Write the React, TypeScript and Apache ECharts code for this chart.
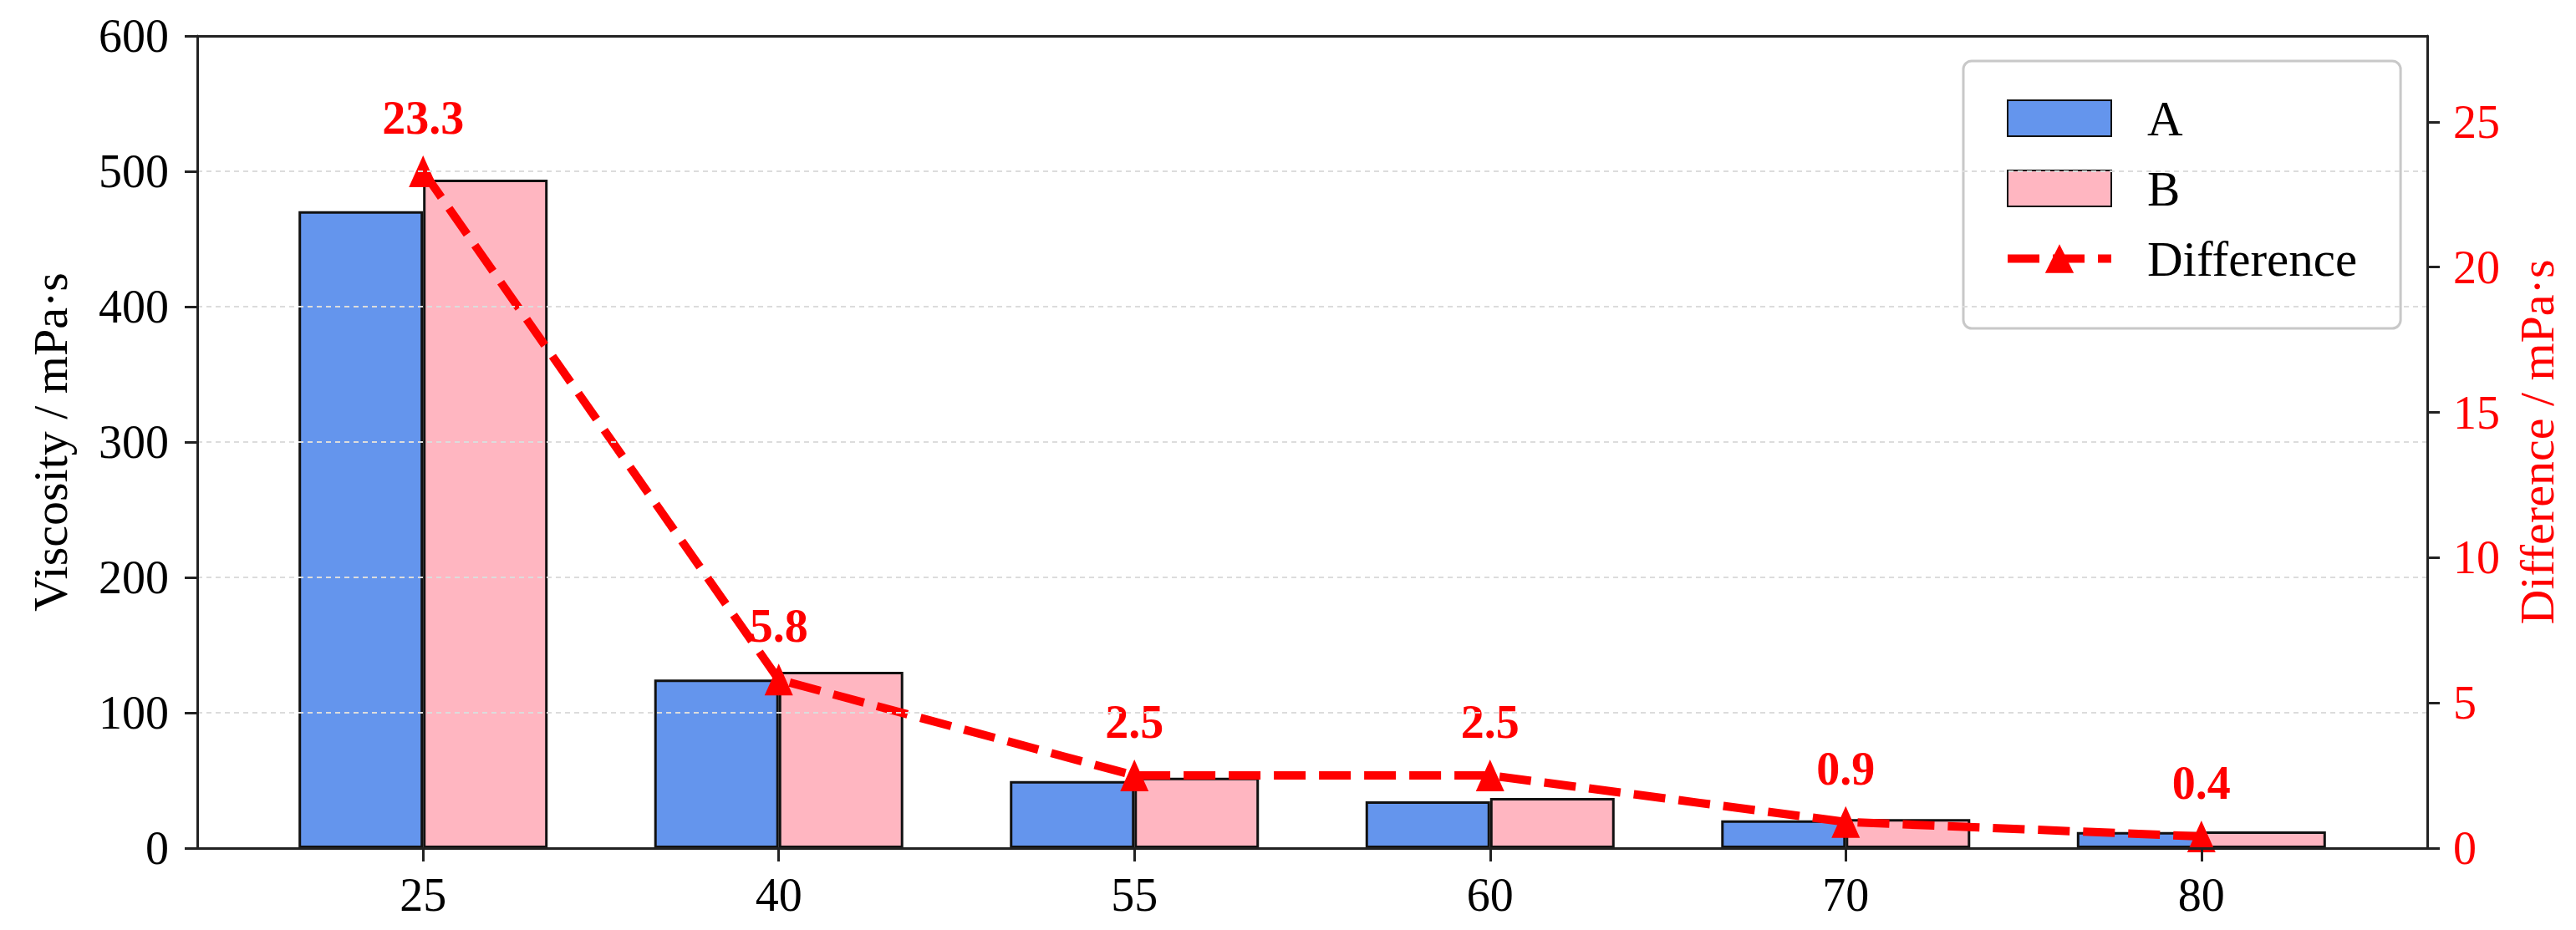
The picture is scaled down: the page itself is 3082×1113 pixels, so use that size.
import React, { useEffect, useRef } from "react";
import * as echarts from "echarts";

const categories = ["25", "40", "55", "60", "70", "80"];
const seriesA = [470.5, 124.5, 49.5, 34.5, 20.5, 11.9];
const seriesB = [493.8, 130.3, 52.0, 37.0, 21.4, 12.3];
const difference = [23.3, 5.8, 2.5, 2.5, 0.9, 0.4];
const leftTicks = [0, 100, 200, 300, 400, 500, 600];
const rightTicks = [0, 5, 10, 15, 20, 25];

const FONT = "'Liberation Serif', 'Times New Roman', serif";
const SPINE = "#222";

export default function App() {
  const ref = useRef<HTMLDivElement>(null);
  useEffect(() => {
    document.body.style.margin = "0";
    if (!ref.current) return;
    const chart = echarts.init(ref.current, undefined, { renderer: "svg" });
    const idx = categories.map((_, i) => i);
    const rightMax = Math.max(...difference) * 1.2;
    chart.setOption({
      animation: false,
      backgroundColor: "#fff",
      textStyle: { fontFamily: FONT },
      grid: { left: 236, right: 178, top: 43, bottom: 98, show: false },
      legend: {
        orient: "vertical",
        left: 2349,
        top: 73,
        padding: [39, 52, 54, 48],
        itemWidth: 124,
        itemHeight: 43,
        itemGap: 25,
        backgroundColor: "#fff",
        borderColor: "#c8c8c8",
        borderWidth: 3,
        borderRadius: 10,
        lineStyle: { width: 10 },
        textStyle: {
          fontFamily: FONT,
          fontSize: 59,
          color: "#000",
          padding: [0, 0, 0, 38],
        },
        data: [
          { name: "A", icon: "rect" },
          { name: "B", icon: "rect" },
          { name: "Difference" },
        ],
      },
      xAxis: [
        {
          type: "value",
          min: -0.635,
          max: 5.635,
          z: 10,
          axisLine: { show: true, onZero: false, lineStyle: { color: SPINE, width: 3 } },
          axisTick: {
            show: true,
            customValues: idx,
            length: 16,
            inside: false,
            lineStyle: { color: SPINE, width: 3 },
          },
          axisLabel: {
            customValues: idx,
            formatter: (v: number) => categories[Math.round(v)] ?? "",
            fontFamily: FONT,
            fontSize: 56,
            color: "#000",
            margin: 28,
          },
          splitLine: { show: false },
        },
        {
          type: "value",
          position: "top",
          min: -0.635,
          max: 5.635,
          z: 10,
          axisLine: { show: true, onZero: false, lineStyle: { color: SPINE, width: 3 } },
          axisTick: { show: false },
          axisLabel: { show: false },
          splitLine: { show: false },
        },
      ],
      yAxis: [
        {
          type: "value",
          min: leftTicks[0],
          max: leftTicks[leftTicks.length - 1],
          interval: 100,
          z: 10,
          name: "Viscosity / mPa·s",
          nameLocation: "middle",
          nameGap: 147,
          nameRotate: 90,
          nameTextStyle: { fontFamily: FONT, fontSize: 58, color: "#000" },
          axisLine: { show: true, onZero: false, lineStyle: { color: SPINE, width: 3 } },
          axisTick: { show: true, length: 15, inside: false, lineStyle: { color: SPINE, width: 3 } },
          axisLabel: { fontFamily: FONT, fontSize: 56, color: "#000", margin: 34 },
          splitLine: { show: true, lineStyle: { color: "#dcdcdc", width: 2, type: [6, 5] } },
        },
        {
          type: "value",
          min: 0,
          max: rightMax,
          position: "right",
          z: 10,
          name: "Difference / mPa·s",
          nameLocation: "middle",
          nameGap: 102,
          nameRotate: 90,
          nameTextStyle: { fontFamily: FONT, fontSize: 58, color: "#ff0000" },
          axisLine: { show: true, onZero: false, lineStyle: { color: SPINE, width: 3 } },
          axisTick: {
            show: true,
            customValues: rightTicks,
            length: 15,
            inside: false,
            lineStyle: { color: SPINE, width: 3 },
          },
          axisLabel: {
            customValues: rightTicks,
            fontFamily: FONT,
            fontSize: 56,
            color: "#ff0000",
            margin: 31,
          },
          splitLine: { show: false },
        },
      ],
      series: [
        {
          name: "A",
          type: "bar",
          data: seriesA.map((v, i) => [i, v]),
          barWidth: 149,
          barGap: "0%",
          itemStyle: { color: "#6495ED", borderColor: "#111", borderWidth: 3 },
          z: 2,
        },
        {
          name: "B",
          type: "bar",
          data: seriesB.map((v, i) => [i, v]),
          barWidth: 149,
          barGap: "0%",
          itemStyle: { color: "#FFB6C1", borderColor: "#111", borderWidth: 3 },
          z: 2,
        },
        {
          name: "Difference",
          type: "line",
          yAxisIndex: 1,
          data: difference.map((v, i) => [i, v]),
          symbol: "triangle",
          symbolSize: [34, 38],
          lineStyle: { color: "#ff0000", width: 10, type: [38, 16] },
          itemStyle: { color: "#ff0000" },
          label: {
            show: true,
            position: "top",
            distance: 17,
            formatter: (p: any) => Number(p.value[1]).toFixed(1),
            fontFamily: FONT,
            fontSize: 56,
            fontWeight: "bold",
            color: "#ff0000",
          },
          z: 5,
        },
      ],
    });
    return () => chart.dispose();
  }, []);
  return <div ref={ref} style={{ width: 3082, height: 1113 }} />;
}
